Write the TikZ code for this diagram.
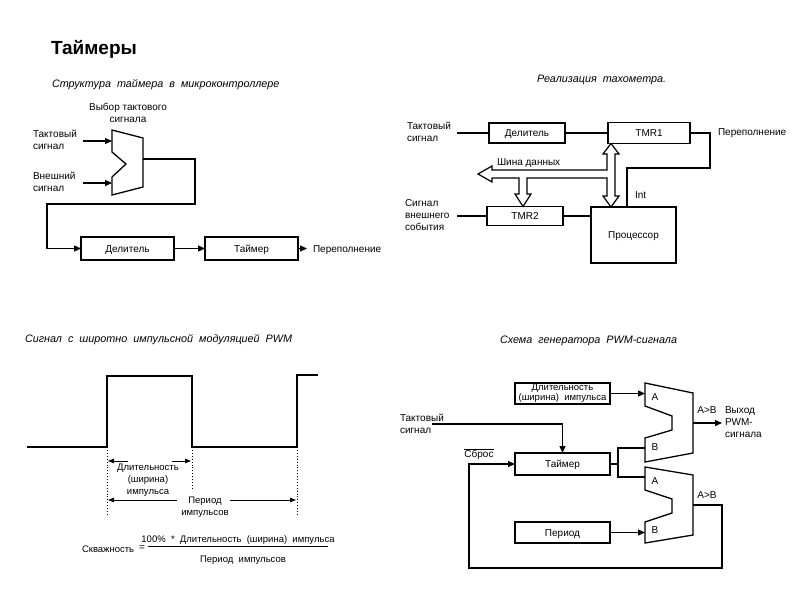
\documentclass[tikz,border=0pt]{standalone}
\usepackage{fontspec}
\setmainfont{Liberation Sans}
\usetikzlibrary{arrows.meta,calc}
\newcommand\widetxt[1]{{\spaceskip=6pt plus 1pt\relax #1}}
\begin{document}
\begin{tikzpicture}[x=1pt,y=-1pt,
  every node/.style={font=\fontsize{10}{12}\selectfont, inner sep=0pt, outer sep=0pt},
  lbl/.style={align=left, anchor=west},
  ttl/.style={anchor=west, font=\fontsize{10.8}{13}\selectfont\itshape},
  box/.style n args={2}{draw, line width=1.3pt, minimum width=#1, minimum height=#2, text height=7.4pt, text depth=0pt},
  mbox/.style n args={2}{draw, line width=1.3pt, minimum width=#1, minimum height=#2},
  wire/.style={line width=1.3pt},
  arr/.style={wire, -{Triangle[length=7pt,width=6pt]}},
  thinarr/.style={line width=0.8pt, -{Triangle[length=6pt,width=4.5pt]}},
  wave/.style={line width=2pt, line join=miter},
  dots/.style={line width=0.9pt, dotted},
  outline/.style={line width=1.3pt, line join=miter},
  ctr/.style={text height=7.2pt, text depth=0pt},
]
\fill[white] (0,0) rectangle (800,600);
\useasboundingbox (0,0) rectangle (800,600);

% ---------- title
\node[anchor=base west, font=\fontsize{19}{21}\selectfont\bfseries] (title) at (51,54) {Таймеры};

% ---------- top-left
\node[ttl] (t1) at (52,85) {\widetxt{Структура таймера в микроконтроллере}};
\node[align=center] (sel) at (128,113) {Выбор тактового\\сигнала};
\node[lbl] (clk1) at (33,140) {Тактовый\\сигнал};
\node[lbl] (ext1) at (33,182) {Внешний\\сигнал};
\draw[outline] (112,130) -- (143,138) -- (143,187) -- (112,195) -- (112,177) -- (126,164) -- (112,152) -- cycle;
\coordinate (muxin1) at (112,141);
\coordinate (muxin2) at (112,183);
\coordinate (muxout) at (143,159);
\coordinate (clk1e) at (83,141);
\coordinate (ext1e) at (83,183);
\draw[arr] (clk1e) -- (muxin1);
\draw[arr] (ext1e) -- (muxin2);
\node[box={93pt}{23pt}] (div1) at (127.5,248.5) {Делитель};
\node[box={93pt}{23pt}] (tim1) at (251.5,248.5) {Таймер};
\node[lbl, ctr] (ovf1) at (313,248.5) {Переполнение};
\draw[arr] (muxout) -- (195,159) |- (47,204) |- (div1.west);
\draw[arr] (div1) -- (tim1);
\draw[arr, shorten >=6pt] (tim1.east) -- (ovf1.west);

% ---------- top-right
\node[ttl] (t2) at (537,80) {\widetxt{Реализация тахометра.}};
\node[lbl] (clk2) at (407,132) {Тактовый\\сигнал};
\node[box={76pt}{20pt}] (div2) at (527,133) {Делитель};
\node[box={82pt}{21pt}] (tmr1) at (649,133) {TMR1};
\node[lbl, ctr] (ovf2) at (718,132) {Переполнение};
\node[lbl] (ext2) at (405,215) {Сигнал\\внешнего\\события};
\node[box={76pt}{19pt}] (tmr2) at (525,216) {TMR2};
\node[box={85pt}{56pt}] (cpu) at (633.5,235) {Процессор};
\node[anchor=west, ctr] (busl) at (497,162) {Шина данных};
\node[anchor=west, ctr] (intl) at (635,195) {Int};
\coordinate (clk2e) at (457,133);
\coordinate (ext2e) at (457,216);
\draw[wire] (clk2e) -- (div2.west);
\draw[wire] (div2) -- (tmr1);
\draw[wire] (ext2e) -- (tmr2.west);
\draw[wire] (tmr2.east) -- (tmr2.east -| cpu.west);
\draw[wire] (tmr1.east) -| (710,168) -| ($(cpu.north west)+(36,0)$);
% data bus (hollow double arrows)
\draw[outline, line width=1.2pt]
  (607,154) -- (603,154) -- (611,143.5) -- (619,154) -- (615,154)
  -- (615,196) -- (619,196) -- (611,207) -- (603,196) -- (607,196)
  -- (607,178) -- (527,178) -- (527,194) -- (531,194) -- (523,206.5)
  -- (515,194) -- (519,194) -- (519,178) -- (492,178) -- (492,182)
  -- (478,174) -- (492,166) -- (492,170) -- (607,170) -- cycle;

% ---------- bottom-left
\node[ttl] (t3) at (25,340) {\widetxt{Сигнал с широтно импульсной модуляцией PWM}};
\draw[wave] (27,447) -- (107,447) -- (107,376) -- (192,376) -- (192,447) -- (297,447) -- (297,375) -- (318,375);
\draw[dots] (107,450) -- (107,514);
\draw[dots] (192,450) -- (192,488);
\draw[dots] (297,450) -- (297,514);
\coordinate (d1s) at (128,461);
\coordinate (d1t) at (108,461);
\coordinate (d2s) at (172,461);
\coordinate (d2t) at (191,461);
\draw[thinarr] (d1s) -- (d1t);
\draw[thinarr] (d2s) -- (d2t);
\node[align=center, font=\fontsize{9.5}{12}\selectfont] (durl) at (148,480) {Длительность\\(ширина)\\импульса};
\coordinate (p1s) at (177,500);
\coordinate (p1t) at (108,500);
\coordinate (p2s) at (230,500);
\coordinate (p2t) at (296,500);
\draw[thinarr] (p1s) -- (p1t);
\draw[thinarr] (p2s) -- (p2t);
\node[align=center, font=\fontsize{9.5}{12}\selectfont] (perl) at (205,507) {Период\\импульсов};
% formula
\node[anchor=west, ctr, font=\fontsize{9.5}{12}\selectfont] (skv) at (82,549) {Скважность};
\node (eq) at (142,548) {=};
\draw[line width=0.8pt] (148,546) -- (328,546);
\node[ctr, font=\fontsize{9.5}{12}\selectfont] (num) at (238,538.5) {100\%\ \ *\ \ Длительность\ \ (ширина)\ \ импульса};
\node[ctr, font=\fontsize{9.5}{12}\selectfont] (den) at (243,559) {Период\ \ импульсов};

% ---------- bottom-right
\node[ttl] (t4) at (500,341) {\widetxt{Схема генератора PWM-сигнала}};
\node[mbox={95pt}{21pt}, align=center, font=\fontsize{9.5}{10}\selectfont] (dur) at (562.5,393.5) {Длительность\\(ширина)\ \ импульса};
\node[box={95pt}{22pt}] (tim3) at (562.5,464) {Таймер};
\node[box={95pt}{21pt}] (per) at (562.5,532.5) {Период};
\draw[outline] (645,383) -- (693,393) -- (693,453) -- (645,462) -- (645,438) -- (672,430) -- (672,416) -- (645,406) -- cycle;
\draw[outline] (645,467) -- (693,475) -- (693,535) -- (645,543) -- (645,522) -- (672,513) -- (672,499) -- (645,490) -- cycle;
\node[ctr] (a1) at (655,397) {A};
\node[ctr] (b1) at (655,447) {B};
\node[ctr] (a2) at (655,481) {A};
\node[ctr] (b2) at (655,530) {B};
\node[ctr] (gt1) at (707,410) {A>B};
\node[ctr] (gt2) at (707,495) {A>B};
\node[lbl] (outl) at (725,422) {Выход\\PWM-\\сигнала};
\node[lbl] (clk3) at (400,424) {Тактовый\\сигнал};
\node (rst) at (479,454) {$\overline{\hbox{Сброс}}$};
\coordinate (c1a) at (645,393.5);
\coordinate (c1b) at (645,448);
\coordinate (c1o) at (693,423);
\coordinate (c2a) at (645,477);
\coordinate (c2b) at (645,532.5);
\coordinate (c2o) at (693,505);
\coordinate (j) at (618,464);
\coordinate (outtip) at (722,423);
\coordinate (clk3e) at (432,424);
\draw[arr] (dur.east) -- (c1a);
\draw[arr] (per.east) -- (c2b);
\draw[wire] (tim3.east) -- (j);
\draw[wire] (c1b) -| (j) |- (c2a);
\draw[arr] (c1o) -- (outtip);
\draw[arr] (c2o) -| (722,568) -| (469,464) -- (tim3.west);
\draw[arr] (clk3e) -| (tim3.north);
\end{tikzpicture}
\end{document}
